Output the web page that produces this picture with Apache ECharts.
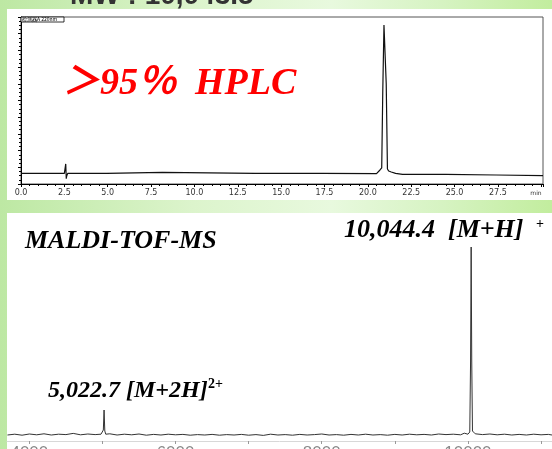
<!DOCTYPE html>
<html><head><meta charset="utf-8">
<script src="https://cdn.jsdelivr.net/npm/echarts@6/dist/echarts.min.js"></script>
<style>
html,body{margin:0;padding:0;}
#c{width:552px;height:449px;background:linear-gradient(90deg,#bde8a3 0%,#dcf4cc 35%,#e8f9de 60%,#d6f3c2 80%,#c2ed9e 100%);}
</style></head>
<body><div id="c"></div>
<script>
// HPLC chromatogram (time in min, detector signal in % of full scale)
const hplcTime   = [0, 2.5, 2.56, 2.58, 2.61, 2.64, 2.7, 4.95, 5.0, 8.15, 8.2, 13.5, 17.4, 17.5, 20.5, 20.7, 20.8, 20.86, 20.93, 21.0, 21.06, 21.13, 21.2, 21.35, 21.6, 22.0, 24.5, 24.6, 27.4, 27.5, 30.1];
const hplcSignal = [6.4, 6.4, 6.6, 12.0, 3.2, 5.0, 6.4, 6.4, 7.0, 7.0, 6.4, 6.4, 6.4, 5.8, 6.2, 8.4, 9.6, 55, 95.2, 95.0, 60, 9.0, 7.8, 7.2, 6.4, 5.8, 5.8, 5.4, 5.4, 5.0, 5.0];
const hplcTickLabels = ['0.0','2.5','5.0','7.5','10.0','12.5','15.0','17.5','20.0','22.5','25.0','27.5'];

// MALDI-TOF-MS spectrum (m/z, relative intensity)
const msMass = [3700,3800,3900,4000,4100,4200,4300,4400,4500,4600,4700,4800,4900,4980,5000,5012,5022,5032,5045,5100,5200,5300,5400,5500,5600,5700,5800,5900,6000,6100,6200,6300,6400,6500,6600,6700,6800,6900,7000,7100,7200,7300,7400,7500,7600,7700,7800,7900,8000,8100,8200,8300,8400,8500,8600,8700,8800,8900,9000,9100,9200,9300,9400,9500,9600,9700,9800,9900,9950,10000,10025,10036,10044,10052,10062,10080,10100,10200,10300,10400,10500,10600,10700,10800,10900,11000,11100,11150];
const msIntensity = [3.0,3.4,2.9,3.5,3.1,3.6,3.0,3.4,3.2,3.8,3.1,3.5,3.2,3.4,3.6,5.5,15.5,5.0,3.4,3.6,3.0,3.4,3.1,3.5,2.9,3.3,3.0,3.4,3.1,3.3,2.9,3.2,3.0,3.3,2.9,3.2,3.0,3.3,2.9,3.2,2.8,3.4,3.0,3.2,2.9,3.3,3.0,3.2,3.5,3.0,3.2,2.9,3.3,3.0,3.4,3.0,3.2,2.9,3.3,3.0,3.4,3.1,3.3,3.0,3.5,3.2,3.4,3.1,3.9,3.4,4.5,40,97,40,5.0,4.2,3.6,3.2,3.5,3.1,3.4,3.0,3.3,3.0,3.4,3.1,3.3,3.0];
const msTickLabels = [4000,6000,8000,10000];
const msTicks = [4000,5000,6000,7000,8000,9000,10000,11000];

const hplcData = hplcTime.map((t,i)=>[t,hplcSignal[i]]);
const msData = msMass.map((m,i)=>[m,msIntensity[i]]);

const serif = "'Liberation Serif','Times New Roman','Noto Sans CJK SC',serif";
const chart = echarts.init(document.getElementById('c'), null, {renderer:'canvas'});
chart.setOption({
  animation:false,
  backgroundColor:'transparent',
  grid:[
    {left:21, right:9, top:17, bottom:265, show:true, borderColor:'#555', borderWidth:1, backgroundColor:'#fff', outerBoundsMode:'none', containLabel:false},
    {left:7, right:0, top:241, bottom:8, outerBoundsMode:'none', containLabel:false}
  ],
  xAxis:[
    {gridIndex:0, type:'value', min:0, max:30.1, interval:2.5,
     axisLine:{lineStyle:{color:'#000',width:1}},
     axisTick:{length:3, lineStyle:{color:'#000'}},
     minorTick:{show:true, splitNumber:5, length:2, lineStyle:{color:'#000'}},
     splitLine:{show:false},
     axisLabel:{fontSize:8, color:'#333', margin:5, fontFamily:'DejaVu Sans',
       formatter:v=>{const s=v.toFixed(1); return hplcTickLabels.indexOf(s)>=0?s:'';}}
    },
    {gridIndex:1, type:'value', min:3694, max:11150,
     axisLine:{show:true, lineStyle:{color:'#d8d8d8',width:1}},
     axisTick:{show:true, length:3, customValues:msTicks, lineStyle:{color:'#999'}},
     splitLine:{show:false},
     axisLabel:{show:true, customValues:msTickLabels, fontSize:17, color:'#888', margin:4, fontFamily:'Liberation Sans',
       formatter:v=>String(v)}
    }
  ],
  yAxis:[
    {gridIndex:0, type:'value', min:0, max:100, interval:10,
     axisLine:{show:true, lineStyle:{color:'#000'}},
     axisTick:{show:true, length:3, lineStyle:{color:'#000'}},
     minorTick:{show:true, splitNumber:4, length:2, lineStyle:{color:'#000'}},
     splitLine:{show:false}, axisLabel:{show:false}},
    {gridIndex:1, type:'value', min:0, max:100, show:false}
  ],
  series:[
    {type:'line', xAxisIndex:0, yAxisIndex:0, data:hplcData, showSymbol:false, symbol:'none', smooth:false, sampling:null,
     lineStyle:{color:'#111', width:1.2}},
    {type:'line', xAxisIndex:1, yAxisIndex:1, data:msData, showSymbol:false, symbol:'none', smooth:false, sampling:null,
     lineStyle:{color:'#333', width:1}}
  ],
  graphic:[
    {type:'rect', z:-10, shape:{x:7,y:9,width:545,height:191}, style:{fill:'#fff'}, silent:true},
    {type:'rect', z:-10, shape:{x:7,y:213,width:545,height:236}, style:{fill:'#fff'}, silent:true},
    {type:'text', z:100, x:70, y:-4, style:{text:'MW : 10,043.5', fill:'#333', font:"bold 28px 'Liberation Sans'", align:'left', verticalAlign:'middle'}},
    {type:'rect', z:100, shape:{x:21,y:17,width:43,height:5}, style:{fill:'#fff', stroke:'#000', lineWidth:0.8}},
    {type:'text', z:101, x:22, y:19.5, style:{text:'检测器A 220nm', fill:'#000', font:"5px 'Noto Sans CJK SC'", align:'left', verticalAlign:'middle'}},
    {type:'text', z:100, x:536, y:193, style:{text:'min', fill:'#333', font:"6px 'DejaVu Sans'", align:'center', verticalAlign:'middle'}},
    {type:'text', z:100, x:62, y:84, style:{text:'＞95％  HPLC', fill:'#ff0000', font:"italic bold 38px "+serif, align:'left', verticalAlign:'middle'}},
    {type:'text', z:100, x:25, y:241, style:{text:'MALDI-TOF-MS', fill:'#000', font:"italic bold 26px "+serif, align:'left', verticalAlign:'middle'}},
    {type:'text', z:100, x:344, y:230, style:{text:'10,044.4  [M+H]', fill:'#000', font:"italic bold 26px "+serif, align:'left', verticalAlign:'middle'}},
    {type:'text', z:100, x:536, y:224, style:{text:'+', fill:'#000', font:"bold 14px "+serif, align:'left', verticalAlign:'middle'}},
    {type:'text', z:100, x:48, y:391, style:{text:'5,022.7 [M+2H]', fill:'#000', font:"italic bold 24px "+serif, align:'left', verticalAlign:'middle'}},
    {type:'text', z:100, x:208, y:384, style:{text:'2+', fill:'#000', font:"bold 14px "+serif, align:'left', verticalAlign:'middle'}}
  ]
});
</script></body></html>
